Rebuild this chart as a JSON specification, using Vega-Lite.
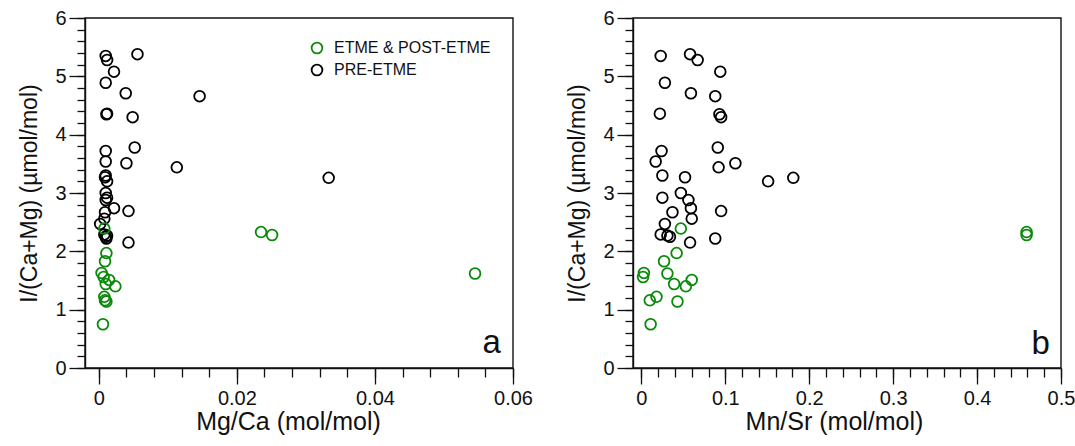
{
  "$schema": "https://vega.github.io/schema/vega-lite/v6.json",
  "background": "white",
  "padding": {"left": 18, "top": 8, "right": 5, "bottom": 5},
  "config": {
    "font": "Liberation Sans",
    "view": {"stroke": null},
    "axis": {"labelFont": "Liberation Sans", "titleFont": "Liberation Sans", "labelFontSize": 20, "titleFontSize": 25, "titleFontWeight": "normal", "domainColor": "#111", "tickColor": "#111", "labelColor": "#111", "titleColor": "#111", "grid": false, "domainWidth": 1.4, "tickWidth": 1.3, "labelFlush": false, "labelOverlap": false},
    "legend": {"labelFont": "Liberation Sans", "labelFontSize": 16, "labelColor": "#111", "labelLimit": 300}
  },
  "datasets": {
    "samples": [
      {"group": "PRE-ETME", "mgca": 0.0056, "mnsr": 0.058, "y": 5.38},
      {"group": "PRE-ETME", "mgca": 0.0010, "mnsr": 0.023, "y": 5.35},
      {"group": "PRE-ETME", "mgca": 0.0012, "mnsr": 0.067, "y": 5.28},
      {"group": "PRE-ETME", "mgca": 0.0022, "mnsr": 0.094, "y": 5.08},
      {"group": "PRE-ETME", "mgca": 0.0010, "mnsr": 0.028, "y": 4.89},
      {"group": "PRE-ETME", "mgca": 0.0039, "mnsr": 0.059, "y": 4.71},
      {"group": "PRE-ETME", "mgca": 0.0146, "mnsr": 0.088, "y": 4.66},
      {"group": "PRE-ETME", "mgca": 0.0012, "mnsr": 0.022, "y": 4.36},
      {"group": "PRE-ETME", "mgca": 0.0011, "mnsr": 0.093, "y": 4.35},
      {"group": "PRE-ETME", "mgca": 0.0049, "mnsr": 0.095, "y": 4.30},
      {"group": "PRE-ETME", "mgca": 0.0052, "mnsr": 0.091, "y": 3.78},
      {"group": "PRE-ETME", "mgca": 0.0010, "mnsr": 0.024, "y": 3.72},
      {"group": "PRE-ETME", "mgca": 0.0010, "mnsr": 0.017, "y": 3.54},
      {"group": "PRE-ETME", "mgca": 0.0040, "mnsr": 0.112, "y": 3.51},
      {"group": "PRE-ETME", "mgca": 0.0113, "mnsr": 0.092, "y": 3.44},
      {"group": "PRE-ETME", "mgca": 0.0010, "mnsr": 0.025, "y": 3.30},
      {"group": "PRE-ETME", "mgca": 0.0009, "mnsr": 0.052, "y": 3.27},
      {"group": "PRE-ETME", "mgca": 0.0333, "mnsr": 0.181, "y": 3.26},
      {"group": "PRE-ETME", "mgca": 0.0012, "mnsr": 0.151, "y": 3.20},
      {"group": "PRE-ETME", "mgca": 0.0010, "mnsr": 0.047, "y": 3.00},
      {"group": "PRE-ETME", "mgca": 0.0012, "mnsr": 0.025, "y": 2.92},
      {"group": "PRE-ETME", "mgca": 0.0010, "mnsr": 0.056, "y": 2.88},
      {"group": "PRE-ETME", "mgca": 0.0022, "mnsr": 0.059, "y": 2.74},
      {"group": "PRE-ETME", "mgca": 0.0043, "mnsr": 0.095, "y": 2.69},
      {"group": "PRE-ETME", "mgca": 0.0009, "mnsr": 0.037, "y": 2.67},
      {"group": "PRE-ETME", "mgca": 0.0008, "mnsr": 0.060, "y": 2.56},
      {"group": "PRE-ETME", "mgca": 0.0002, "mnsr": 0.028, "y": 2.47},
      {"group": "PRE-ETME", "mgca": 0.0008, "mnsr": 0.023, "y": 2.29},
      {"group": "PRE-ETME", "mgca": 0.0012, "mnsr": 0.031, "y": 2.27},
      {"group": "PRE-ETME", "mgca": 0.0010, "mnsr": 0.034, "y": 2.25},
      {"group": "PRE-ETME", "mgca": 0.0011, "mnsr": 0.088, "y": 2.22},
      {"group": "PRE-ETME", "mgca": 0.0043, "mnsr": 0.058, "y": 2.15},
      {"group": "ETME & POST-ETME", "mgca": 0.0008, "mnsr": 0.047, "y": 2.39},
      {"group": "ETME & POST-ETME", "mgca": 0.0235, "mnsr": 0.459, "y": 2.33},
      {"group": "ETME & POST-ETME", "mgca": 0.0251, "mnsr": 0.459, "y": 2.28},
      {"group": "ETME & POST-ETME", "mgca": 0.0011, "mnsr": 0.042, "y": 1.97},
      {"group": "ETME & POST-ETME", "mgca": 0.0009, "mnsr": 0.027, "y": 1.83},
      {"group": "ETME & POST-ETME", "mgca": 0.0004, "mnsr": 0.003, "y": 1.63},
      {"group": "ETME & POST-ETME", "mgca": 0.0545, "mnsr": 0.031, "y": 1.62},
      {"group": "ETME & POST-ETME", "mgca": 0.0007, "mnsr": 0.002, "y": 1.56},
      {"group": "ETME & POST-ETME", "mgca": 0.0015, "mnsr": 0.060, "y": 1.51},
      {"group": "ETME & POST-ETME", "mgca": 0.0010, "mnsr": 0.039, "y": 1.44},
      {"group": "ETME & POST-ETME", "mgca": 0.0024, "mnsr": 0.053, "y": 1.40},
      {"group": "ETME & POST-ETME", "mgca": 0.0008, "mnsr": 0.018, "y": 1.22},
      {"group": "ETME & POST-ETME", "mgca": 0.0009, "mnsr": 0.010, "y": 1.16},
      {"group": "ETME & POST-ETME", "mgca": 0.0011, "mnsr": 0.043, "y": 1.14},
      {"group": "ETME & POST-ETME", "mgca": 0.0006, "mnsr": 0.011, "y": 0.75}
    ]
  },
  "hconcat": [
    {
      "width": 428,
      "height": 350,
      "layer": [
        {
          "data": {"values": [{"label": "frame"}]},
          "mark": {"type": "rect", "filled": false, "color": "#111", "strokeWidth": 1.4},
          "encoding": {
            "x": {"datum": -0.002, "type": "quantitative", "axis": null},
            "x2": {"datum": 0.06},
            "y": {"datum": 0, "type": "quantitative", "axis": null},
            "y2": {"datum": 6}
          }
        },
        {
          "data": {"name": "samples"},
          "mark": {"type": "point", "shape": "circle", "filled": false, "size": 115, "strokeWidth": 1.8, "opacity": 1},
          "encoding": {
            "x": {"field": "mgca", "type": "quantitative", "scale": {"domain": [-0.002, 0.06], "nice": false, "zero": false},
                  "axis": {"orient": "bottom", "values": [0,0.004,0.008,0.012,0.016,0.02,0.024,0.028,0.032,0.036,0.04,0.044,0.048,0.052,0.056,0.06], "labels": false, "title": null, "tickSize": 9, "domain": false}},
            "y": {"field": "y", "type": "quantitative", "scale": {"domain": [0, 6], "nice": false},
                  "axis": {"orient": "left", "values": [0,0.2,0.4,0.6,0.8,1,1.2,1.4,1.6,1.8,2,2.2,2.4,2.6,2.8,3,3.2,3.4,3.6,3.8,4,4.2,4.4,4.6,4.8,5,5.2,5.4,5.6,5.8,6], "labels": false, "title": null, "tickSize": 8, "domain": false}},
            "color": {"field": "group", "type": "nominal",
                      "scale": {"domain": ["ETME & POST-ETME", "PRE-ETME"], "range": ["#0a8a0a", "#000000"]},
                      "legend": {"orient": "top-right", "offset": 20, "title": null, "padding": 2, "symbolSize": 115, "symbolStrokeWidth": 1.8, "labelOffset": 9, "rowPadding": 4, "symbolType": "circle", "symbolOpacity": 1}}
          }
        },
        {
          "data": {"values": [{"label": "a"}]},
          "mark": {"type": "text", "fontSize": 33, "align": "center", "baseline": "alphabetic", "color": "#111"},
          "encoding": {
            "x": {"datum": 0.0569, "type": "quantitative",
                  "axis": {"orient": "bottom", "values": [0, 0.02, 0.04, 0.06], "format": "~r", "tickSize": 16, "labelPadding": 4, "title": "Mg/Ca (mol/mol)", "titlePadding": 1, "titleX": 203, "titleFontSize": 25}},
            "y": {"datum": 0.26, "type": "quantitative",
                  "axis": {"orient": "left", "values": [0,1,2,3,4,5,6], "tickSize": 16, "labelPadding": 3, "title": "I/(Ca+Mg) (µmol/mol)", "titlePadding": 13, "titleFontSize": 23}},
            "text": {"field": "label"}
          }
        }
      ],
      "resolve": {"axis": {"x": "independent", "y": "independent"}}
    },
    {
      "width": 428,
      "height": 350,
      "layer": [
        {
          "data": {"values": [{"label": "frame"}]},
          "mark": {"type": "rect", "filled": false, "color": "#111", "strokeWidth": 1.4},
          "encoding": {
            "x": {"datum": -0.01, "type": "quantitative", "axis": null},
            "x2": {"datum": 0.5},
            "y": {"datum": 0, "type": "quantitative", "axis": null},
            "y2": {"datum": 6}
          }
        },
        {
          "data": {"name": "samples"},
          "mark": {"type": "point", "shape": "circle", "filled": false, "size": 115, "strokeWidth": 1.8, "opacity": 1},
          "encoding": {
            "x": {"field": "mnsr", "type": "quantitative", "scale": {"domain": [-0.01, 0.5], "nice": false, "zero": false},
                  "axis": {"orient": "bottom", "values": [0,0.02,0.04,0.06,0.08,0.1,0.12,0.14,0.16,0.18,0.2,0.22,0.24,0.26,0.28,0.3,0.32,0.34,0.36,0.38,0.4,0.42,0.44,0.46,0.48,0.5], "labels": false, "title": null, "tickSize": 9, "domain": false}},
            "y": {"field": "y", "type": "quantitative", "scale": {"domain": [0, 6], "nice": false},
                  "axis": {"orient": "left", "values": [0,0.2,0.4,0.6,0.8,1,1.2,1.4,1.6,1.8,2,2.2,2.4,2.6,2.8,3,3.2,3.4,3.6,3.8,4,4.2,4.4,4.6,4.8,5,5.2,5.4,5.6,5.8,6], "labels": false, "title": null, "tickSize": 8, "domain": false}},
            "color": {"field": "group", "type": "nominal",
                      "scale": {"domain": ["ETME & POST-ETME", "PRE-ETME"], "range": ["#0a8a0a", "#000000"]},
                      "legend": null}
          }
        },
        {
          "data": {"values": [{"label": "b"}]},
          "mark": {"type": "text", "fontSize": 33, "align": "center", "baseline": "alphabetic", "color": "#111"},
          "encoding": {
            "x": {"datum": 0.4757, "type": "quantitative",
                  "axis": {"orient": "bottom", "values": [0, 0.1, 0.2, 0.3, 0.4, 0.5], "format": "~r", "tickSize": 16, "labelPadding": 4, "title": "Mn/Sr (mol/mol)", "titlePadding": 1, "titleX": 201, "titleFontSize": 25}},
            "y": {"datum": 0.24, "type": "quantitative",
                  "axis": {"orient": "left", "values": [0,1,2,3,4,5,6], "tickSize": 16, "labelPadding": 3, "title": "I/(Ca+Mg) (µmol/mol)", "titlePadding": 13, "titleFontSize": 23}},
            "text": {"field": "label"}
          }
        }
      ],
      "resolve": {"axis": {"x": "independent", "y": "independent"}}
    }
  ],
  "spacing": 120,
  "bounds": "flush",
  "resolve": {"scale": {"color": "independent"}, "legend": {"color": "independent"}}
}
